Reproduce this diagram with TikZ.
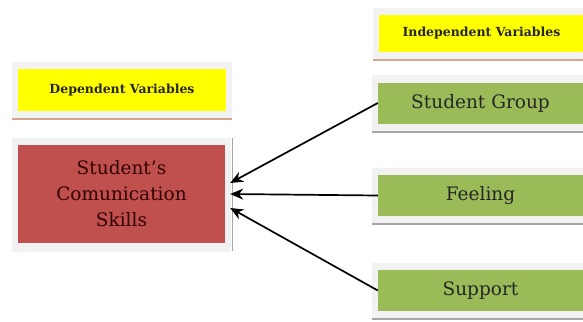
\documentclass[tikz,border=0pt]{standalone}
\usepackage{fontspec}
\setmainfont{DejaVu Serif}
\usetikzlibrary{arrows.meta,backgrounds,calc}
\definecolor{varyellow}{HTML}{FFFF00}
\definecolor{skillred}{HTML}{C0504D}
\definecolor{factgreen}{HTML}{9BBB59}
\definecolor{framegray}{HTML}{F2F2F2}
\definecolor{shadebrown}{HTML}{D4A68E}
\definecolor{shadegray}{HTML}{A6A6A6}

\begin{document}
\begin{tikzpicture}[x=1pt,y=-1pt
        ,box/.style = {inner sep=0pt, align=center, text=black!85}
        ,label/.style = {box, fill=varyellow, font=\fontsize{12.5}{14}\selectfont\bfseries}
        ,factor/.style = {box, fill=factgreen, minimum width=205pt, minimum height=41pt, font=\fontsize{18.5}{22}\selectfont}
        ,frame/.style = {fill=framegray}
        ,link/.style = {-{Stealth[length=13pt,width=11pt]}, line width=1.7pt}
      ]
      \useasboundingbox (0,0) rectangle (583,321);

      % left side
      \node[label, minimum width=208pt, minimum height=42pt](dep) at (122,90) {Dependent Variables};
      \node[box, fill=skillred, minimum width=207pt, minimum height=98pt
            ,font=\fontsize{18.5}{26}\selectfont, text=black!80!red](skills) at (121.5,194)
            {Student's\\Comunication\\Skills};

      % right side
      \node[label, minimum width=205pt, minimum height=37pt](indep) at (481.5,33.5) {Independent Variables};
      \node[factor](group) at (480.5,103) {Student Group};
      \node[factor](feel) at (480.5,195.5) {Feeling};
      \node[factor](supp) at (480.5,290.5) {Support};

      \begin{pgfonlayer}{background}
        \foreach \n/\c in {dep/shadebrown,skills/framegray,indep/shadebrown,group/shadegray,feel/shadegray,supp/shadegray}{
          \fill[frame] ($(\n.north west)+(-6,-7)$) rectangle ($(\n.south east)+(6,8)$);
          \draw[\c, line width=2pt] ($(\n.south west)+(-6,8)$) -- ($(\n.south east)+(6,8)$);
        }
        \draw[shadegray, line width=1pt] ($(skills.north east)+(7,-7)$) -- ($(skills.south east)+(7,8)$);
      \end{pgfonlayer}

      \draw[link] (group.west) -- ([xshift=5pt,yshift=11pt]skills.east);
      \draw[link] (feel.west) -- ([xshift=5pt]skills.east);
      \draw[link] (supp.west) -- ([xshift=5pt,yshift=-14pt]skills.east);
    \end{tikzpicture}
\end{document}
